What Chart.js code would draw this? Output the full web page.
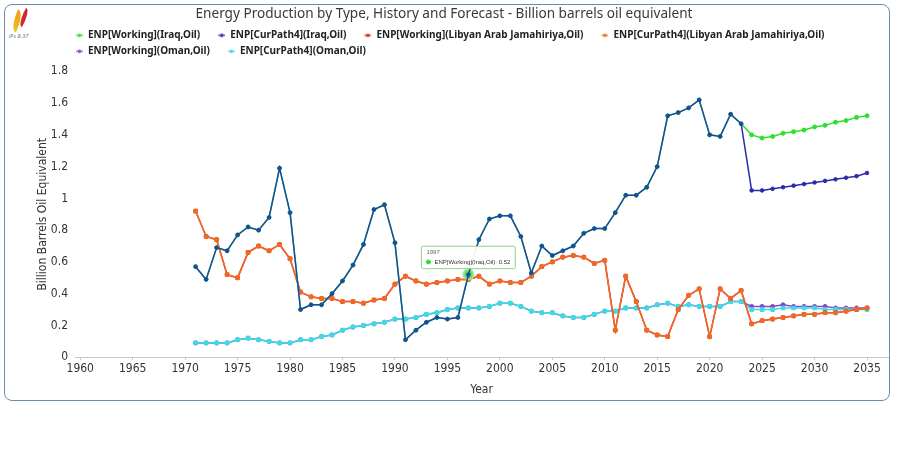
<!DOCTYPE html>
<html>
<head>
<meta charset="utf-8">
<script src="https://cdn.jsdelivr.net/npm/chart.js@4.4.1/dist/chart.umd.min.js"></script>
<style>
  body { margin: 0; background: #fff; }
  #frame { position: absolute; left: 4px; top: 4px; width: 884px; height: 395px; border: 1.5px solid #6a8cb5; border-radius: 8px; }
  #wrap { position: absolute; left: 0; top: 0; width: 900px; height: 401px; }
  #logo { position: absolute; left: 6px; top: 6px; width: 34px; height: 34px; }
  #logo .a { position: absolute; left: 7px; top: 4px; width: 8px; height: 22px; background: linear-gradient(#f39a1a, #e9c624); border-radius: 0 100% 0 100%; transform: rotate(26deg); }
  #logo .b { position: absolute; left: 15px; top: 2px; width: 6px; height: 19px; background: #d2282b; border-radius: 0 100% 0 100%; transform: rotate(30deg); }
  #logo span { position: absolute; left: 3px; top: 27px; font: italic 5px "DejaVu Sans", sans-serif; color: #666; white-space: nowrap; }
</style>
</head>
<body>
<div id="frame"></div>
<div id="logo"><div class="a"></div><div class="b"></div><span>IFs 8.37</span></div>
<div id="wrap"><canvas id="myChart" width="900" height="401"></canvas></div>
<script>
// years: history 1971-2023, forecast 2024-2035
var years = [1971, 1972, 1973, 1974, 1975, 1976, 1977, 1978, 1979, 1980,
             1981, 1982, 1983, 1984, 1985, 1986, 1987, 1988, 1989, 1990,
             1991, 1992, 1993, 1994, 1995, 1996, 1997, 1998, 1999, 2000,
             2001, 2002, 2003, 2004, 2005, 2006, 2007, 2008, 2009, 2010,
             2011, 2012, 2013, 2014, 2015, 2016, 2017, 2018, 2019, 2020,
             2021, 2022, 2023,
             2024, 2025, 2026, 2027, 2028, 2029, 2030, 2031, 2032, 2033, 2034, 2035];
var xTicks = [1960, 1965, 1970, 1975, 1980, 1985, 1990, 1995, 2000, 2005, 2010, 2015, 2020, 2025, 2030, 2035];

// Iraq
var iraqHist = [0.57, 0.49, 0.69, 0.67, 0.77, 0.82, 0.80, 0.88, 1.19, 0.91,
                0.30, 0.33, 0.33, 0.40, 0.48, 0.58, 0.71, 0.93, 0.96, 0.72,
                0.11, 0.17, 0.22, 0.25, 0.24, 0.25, 0.52, 0.74, 0.87, 0.89,
                0.89, 0.76, 0.53, 0.70, 0.64, 0.67, 0.70, 0.78, 0.81, 0.81,
                0.91, 1.02, 1.02, 1.07, 1.20, 1.52, 1.54, 1.57, 1.62, 1.40,
                1.39, 1.53, 1.47];
var iraqWorkingFc = [1.40, 1.38, 1.39, 1.41, 1.42, 1.43, 1.45, 1.46, 1.48, 1.49, 1.51, 1.52];
var iraqCurPathFc = [1.05, 1.05, 1.06, 1.07, 1.08, 1.09, 1.10, 1.11, 1.12, 1.13, 1.14, 1.16];

// Libyan Arab Jamahiriya
var libyaHist = [0.92, 0.76, 0.74, 0.52, 0.50, 0.66, 0.70, 0.67, 0.71, 0.62,
                 0.41, 0.38, 0.37, 0.37, 0.35, 0.35, 0.34, 0.36, 0.37, 0.46,
                 0.51, 0.48, 0.46, 0.47, 0.48, 0.49, 0.49, 0.51, 0.46, 0.48,
                 0.47, 0.47, 0.51, 0.57, 0.60, 0.63, 0.64, 0.63, 0.59, 0.61,
                 0.17, 0.51, 0.35, 0.17, 0.14, 0.13, 0.30, 0.39, 0.43, 0.13,
                 0.43, 0.37, 0.42];
var libyaWorkingFc = [0.21, 0.23, 0.24, 0.25, 0.26, 0.27, 0.27, 0.28, 0.28, 0.29, 0.30, 0.31];
var libyaCurPathFc = [0.21, 0.23, 0.24, 0.25, 0.26, 0.27, 0.27, 0.28, 0.28, 0.29, 0.30, 0.31];

// Oman
var omanHist = [0.09, 0.09, 0.09, 0.09, 0.11, 0.12, 0.11, 0.10, 0.09, 0.09,
                0.11, 0.11, 0.13, 0.14, 0.17, 0.19, 0.20, 0.21, 0.22, 0.24,
                0.24, 0.25, 0.27, 0.28, 0.30, 0.31, 0.31, 0.31, 0.32, 0.34,
                0.34, 0.32, 0.29, 0.28, 0.28, 0.26, 0.25, 0.25, 0.27, 0.29,
                0.29, 0.31, 0.31, 0.31, 0.33, 0.34, 0.32, 0.33, 0.32, 0.32,
                0.32, 0.35, 0.35];
var omanWorkingFc = [0.32, 0.32, 0.32, 0.33, 0.32, 0.32, 0.32, 0.32, 0.31, 0.31, 0.31, 0.31];
var omanCurPathFc = [0.30, 0.30, 0.30, 0.31, 0.31, 0.31, 0.31, 0.30, 0.30, 0.30, 0.30, 0.30];

var lastHistYear = 2023;
var tooltipYear = 1997;

var green = '#2ee02e', navy = '#2b2bab', histBlue = '#1d48a6', red = '#e0201b',
    orange = '#ee6a27', purple = '#8a45c8', cyan = '#3fdbe3';
var legendColors = [green, navy, red, orange, purple, cyan];

function pts(vals) {
  return vals.map(function (v, i) { return { x: years[i], y: v }; });
}

// small line-with-dot marker for the legend
function legendMarker(color) {
  var c = document.createElement('canvas');
  c.width = 19; c.height = 8;
  var g = c.getContext('2d');
  g.strokeStyle = color; g.lineWidth = 1.2;
  g.beginPath(); g.moveTo(12, 4); g.lineTo(19, 4); g.stroke();
  g.fillStyle = color;
  g.beginPath(); g.arc(15.5, 4, 1.8, 0, Math.PI * 2); g.fill();
  return c;
}

// legend: a bit more room below it, rows start at the left like the original
var legendTweak = {
  id: 'legendTweak',
  beforeLayout: function (chart) {
    var lg = chart.legend;
    if (lg && !lg._taller) {
      var fit = lg.fit;
      lg.fit = function () { fit.call(this); this.height += 5; };
      lg._taller = true;
    }
  },
  afterLayout: function (chart) { chart.legend.left += 58; }
};

Chart.Tooltip.positioners.abovePoint = function (items) {
  if (!items.length) return false;
  var el = items[0].element;
  return { x: el.x, y: el.y - 6, xAlign: 'center', yAlign: 'bottom' };
};

var narrow = '"Liberation Sans Narrow", "DejaVu Sans Condensed", sans-serif';

var ctx = document.getElementById('myChart').getContext('2d');
var myChart = new Chart(ctx, {
  type: 'line',
  data: {
    datasets: [{
      label: 'ENP[Working](Iraq,Oil)',
      data: pts(iraqHist.concat(iraqWorkingFc)),
      borderColor: green, backgroundColor: green,
      pointRadius: 2, pointHoverRadius: 5,
      pointHoverBackgroundColor: 'rgba(70,215,70,0.85)', pointHoverBorderColor: '#9be89b', pointHoverBorderWidth: 2,
      order: 2
    }, {
      label: 'ENP[CurPath4](Iraq,Oil)',
      data: pts(iraqHist.concat(iraqCurPathFc)),
      borderColor: navy, backgroundColor: navy,
      segment: { borderColor: function (c) { return years[c.p1DataIndex] <= lastHistYear ? histBlue : undefined; } },
      pointBackgroundColor: function (c) { return years[c.dataIndex] <= lastHistYear ? histBlue : navy; },
      pointBorderColor: function (c) { return years[c.dataIndex] <= lastHistYear ? histBlue : navy; },
      pointRadius: 1.8,
      order: 1
    }, {
      label: 'ENP[Working](Libyan Arab Jamahiriya,Oil)',
      data: pts(libyaHist.concat(libyaWorkingFc)),
      borderColor: red, backgroundColor: red,
      pointRadius: 2,
      order: 4
    }, {
      label: 'ENP[CurPath4](Libyan Arab Jamahiriya,Oil)',
      data: pts(libyaHist.concat(libyaCurPathFc)),
      borderColor: orange, backgroundColor: orange,
      pointStyle: 'rect', pointRadius: 2.6,
      order: 3
    }, {
      label: 'ENP[Working](Oman,Oil)',
      data: pts(omanHist.concat(omanWorkingFc)),
      borderColor: purple, backgroundColor: purple,
      pointRadius: 2,
      order: 6
    }, {
      label: 'ENP[CurPath4](Oman,Oil)',
      data: pts(omanHist.concat(omanCurPathFc)),
      borderColor: cyan, backgroundColor: cyan,
      pointStyle: 'rect', pointRadius: 2.6,
      order: 5
    }]
  },
  options: {
    responsive: false,
    animation: false,
    elements: { line: { borderWidth: 1.5, tension: 0 }, point: { borderWidth: 1 } },
    layout: { padding: { left: 0, right: 12, top: 0, bottom: 0 } },
    plugins: {
      title: {
        display: true,
        text: 'Energy Production by Type, History and Forecast - Billion barrels oil equivalent',
        color: '#3a3a3a',
        font: { family: '"Noto Sans", sans-serif', size: 13.6, weight: 'normal' },
        padding: { top: 6, bottom: 2 }
      },
      legend: {
        align: 'start',
        labels: {
          usePointStyle: true,
          pointStyleWidth: 19,
          padding: 6,
          color: '#222',
          font: { family: '"Noto Sans", sans-serif', size: 10, weight: 'bold' },
          sort: function (a, b) { return a.datasetIndex - b.datasetIndex; },
          generateLabels: function (chart) {
            var items = Chart.defaults.plugins.legend.labels.generateLabels(chart);
            items.forEach(function (it) { it.pointStyle = legendMarker(legendColors[it.datasetIndex]); });
            return items;
          }
        }
      },
      tooltip: {
        position: 'abovePoint',
        xAlign: 'center', yAlign: 'bottom',
        caretSize: 0, caretPadding: 0, cornerRadius: 2,
        backgroundColor: 'rgba(255,255,255,0.95)',
        borderColor: '#86d886', borderWidth: 1,
        titleColor: '#666', bodyColor: '#333',
        titleFont: { size: 6, weight: 'normal' },
        bodyFont: { size: 6 },
        titleMarginBottom: 2,
        padding: { top: 3, bottom: 3, left: 5, right: 5 },
        boxWidth: 4, boxHeight: 4, boxPadding: 2,
        usePointStyle: true,
        callbacks: {
          title: function (items) { return String(items[0].parsed.x); },
          labelPointStyle: function () { return { pointStyle: 'circle', rotation: 0 }; }
        }
      }
    },
    scales: {
      x: {
        type: 'linear',
        min: 1959.5, max: 2037,
        afterBuildTicks: function (scale) {
          scale.ticks = xTicks.map(function (v) { return { value: v }; });
        },
        ticks: { color: '#333', padding: 1, font: { family: narrow, size: 12 },
                 callback: function (v) { return String(v); } },
        grid: { drawOnChartArea: false, drawTicks: true, tickLength: 3, color: '#c8c8c8' },
        border: { display: true, color: '#c8c8c8' },
        title: { display: true, text: 'Year', color: '#333', font: { family: narrow, size: 12 },
                 padding: { top: 6, bottom: 4 } }
      },
      y: {
        min: 0, max: 1.8,
        afterFit: function (scale) { scale.width = 75; },
        ticks: { stepSize: 0.2, color: '#333', padding: 7, font: { family: narrow, size: 12 },
                 callback: function (v) { return String(Math.round(v * 10) / 10); } },
        grid: { display: false, drawTicks: false },
        border: { display: false },
        title: { display: true, text: 'Billion Barrels Oil Equivalent', color: '#333',
                 font: { family: narrow, size: 12 }, padding: { top: 36, bottom: 0 } }
      }
    }
  },
  plugins: [legendTweak]
});

// show the hover tooltip on the 1997 point like the original picture
var idx = years.indexOf(tooltipYear);
myChart.setActiveElements([{ datasetIndex: 0, index: idx }]);
myChart.tooltip.setActiveElements([{ datasetIndex: 0, index: idx }], { x: 0, y: 0 });
myChart.update();
</script>
</body>
</html>
